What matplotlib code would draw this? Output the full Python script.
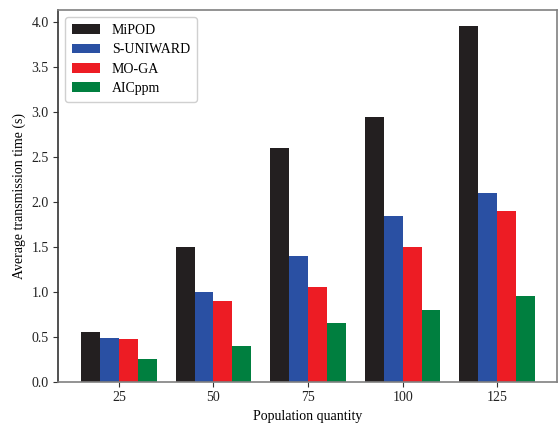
import numpy as np
import matplotlib
matplotlib.use("Agg")
import matplotlib.pyplot as plt

# ---- data ----
populations = ["25", "50", "75", "100", "125"]
methods = ["MiPOD", "S-UNIWARD", "MO-GA", "AICppm"]
mipod = [0.55, 1.50, 2.60, 2.94, 3.95]
s_uniward = [0.49, 1.00, 1.40, 1.84, 2.10]
mo_ga = [0.48, 0.90, 1.05, 1.50, 1.90]
aicppm = [0.25, 0.40, 0.65, 0.80, 0.95]

colors = ["#231f20", "#2a50a3", "#ed1c24", "#007f3f"]

plt.rcParams["font.family"] = ["Liberation Serif", "DejaVu Serif"]
plt.rcParams["font.size"] = 10

fig = plt.figure(figsize=(5.59, 4.23), dpi=100)
ax = fig.add_axes([0.1043, 0.0976, 0.8927, 0.8784])

x = np.arange(len(populations))
width = 0.2
series = [mipod, s_uniward, mo_ga, aicppm]
for i, (name, vals) in enumerate(zip(methods, series)):
    ax.bar(x + (i - 1.5) * width, vals, width, color=colors[i], label=name)

ax.set_xticks(x)
ax.set_xticklabels(populations)
ax.set_xlim(-0.64, 4.635)
ax.set_ylim(0, 4.13)
ax.set_yticks(np.arange(0, 4.01, 0.5))
ax.set_yticklabels([f"{v:.1f}" for v in np.arange(0, 4.01, 0.5)])
ax.set_xlabel("Population quantity")
ax.set_ylabel("Average transmission time (s)")

for sp in ax.spines.values():
    sp.set_color("#808080")
    sp.set_linewidth(1.2)
ax.spines["left"].set_color("#333333")
ax.tick_params(colors="#333333", labelcolor="#222222")

ax.legend(loc="upper left", fancybox=True, framealpha=1, edgecolor="#d0d0d0",
          handlelength=2.0, handleheight=0.7, handletextpad=0.85,
          borderpad=0.5, labelspacing=0.45)

fig.savefig("out.png", dpi=100)
